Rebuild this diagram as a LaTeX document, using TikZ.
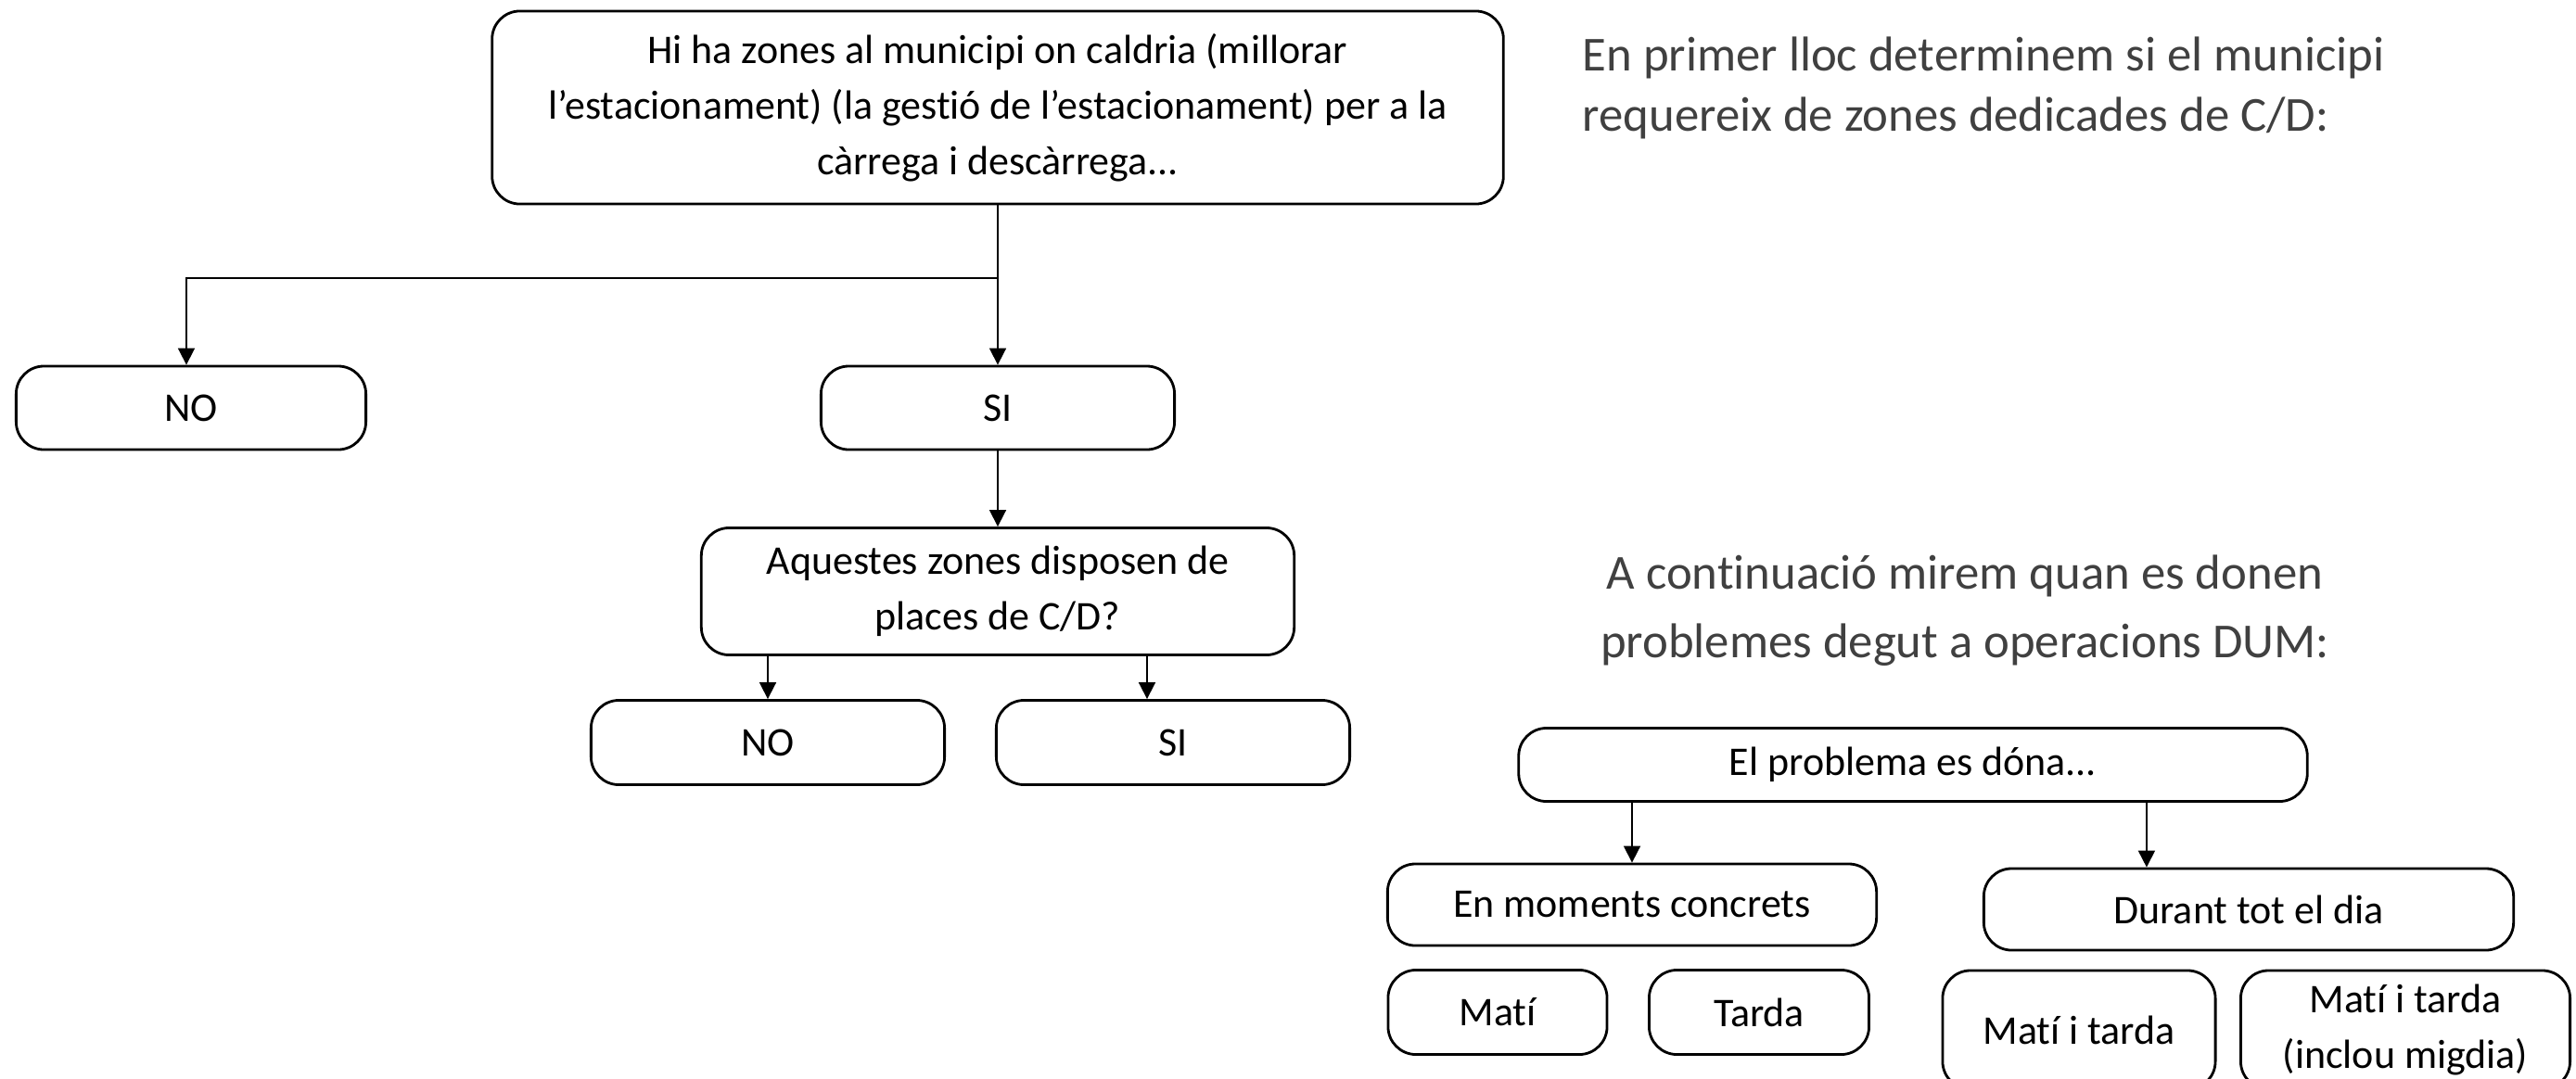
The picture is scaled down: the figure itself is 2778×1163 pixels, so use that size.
\documentclass[tikz,border=0pt]{standalone}
\usepackage{fontspec}
\setmainfont{Carlito}[Ligatures=NoCommon]
\usetikzlibrary{arrows.meta}
\definecolor{notegray}{HTML}{404040}
\tikzset{
  box/.style={draw, rounded corners=0.3cm, line width=0.8pt, align=center, inner sep=0pt,
    font=\fontsize{12.5}{17}\selectfont},
  arr/.style={-{Triangle[length=0.18cm,width=0.18cm]}, line width=0.5pt},
  note/.style={text=notegray, inner sep=0pt}
}

\begin{document}
\begin{tikzpicture}[x=0.01cm, y=-0.01cm]
\useasboundingbox (0,0) rectangle (2778,1163);

% first question
\node[box, minimum width=10.9cm, minimum height=2.08cm] (zones) at (1076,116)
  {Hi ha zones al municipi on caldria (millorar\\l’estacionament) (la gestió de l’estacionament) per a la\\càrrega i descàrrega...};
\node[box, minimum width=3.77cm, minimum height=0.9cm] (no1) at (206,440) {NO};
\node[box, minimum width=3.81cm, minimum height=0.9cm] (si1) at (1076,440) {SI};
\node[box, minimum width=6.39cm, minimum height=1.37cm] (places) at (1076,638)
  {Aquestes zones disposen de\\places de C/D?};
\node[box, minimum width=3.81cm, minimum height=0.91cm] (no2) at (828,801) {NO};
\node[box, minimum width=3.81cm, minimum height=0.91cm] (si2) at (1265,801) {SI};

\coordinate (split) at (1076,300);
\draw[line width=0.5pt] (zones.south) -- (split);
\draw[arr] (split) -| ([xshift=-0.05cm]no1.north);
\draw[arr] (split) -- (si1.north);
\draw[arr] (si1.south) -- (places.north);
\draw[arr] (places.south -| no2.north) -- (no2.north);
\draw[arr] ([xshift=-0.28cm]si2.north |- places.south) -- ([xshift=-0.28cm]si2.north);

% notes
\node[note, anchor=west, align=left, font=\fontsize{15}{18.4}\selectfont] (note1) at (1706,95)
  {En primer lloc determinem si el municipi\\requereix de zones dedicades de C/D:};
\node[note, align=center, font=\fontsize{15}{21}\selectfont] (note2) at (2119,659)
  { A continuació mirem quan es donen\\problemes degut a operacions DUM:};

% second question
\node[box, minimum width=8.5cm, minimum height=0.79cm] (when) at (2063,825) {El problema es dóna...};
\node[box, minimum width=5.27cm, minimum height=0.88cm] (moments) at (1760,976) {En moments concrets};
\node[box, minimum width=5.71cm, minimum height=0.88cm] (allday) at (2425,981) {Durant tot el dia};
\node[box, minimum width=2.36cm, minimum height=0.91cm] (mati) at (1615,1092) {Matí};
\node[box, minimum width=2.37cm, minimum height=0.91cm] (tarda) at (1897,1092) {Tarda};
\node[box, minimum width=2.94cm, minimum height=1.28cm] (matitarda) at (2242,1111) {Matí i tarda};
\node[box, minimum width=3.55cm, minimum height=1.28cm] (migdia) at (2594,1111) {Matí i tarda\\(inclou migdia)};

\draw[arr] (when.south -| moments.north) -- (moments.north);
\draw[arr] ([xshift=-1.1cm]allday.north |- when.south) -- ([xshift=-1.1cm]allday.north);
\end{tikzpicture}
\end{document}
